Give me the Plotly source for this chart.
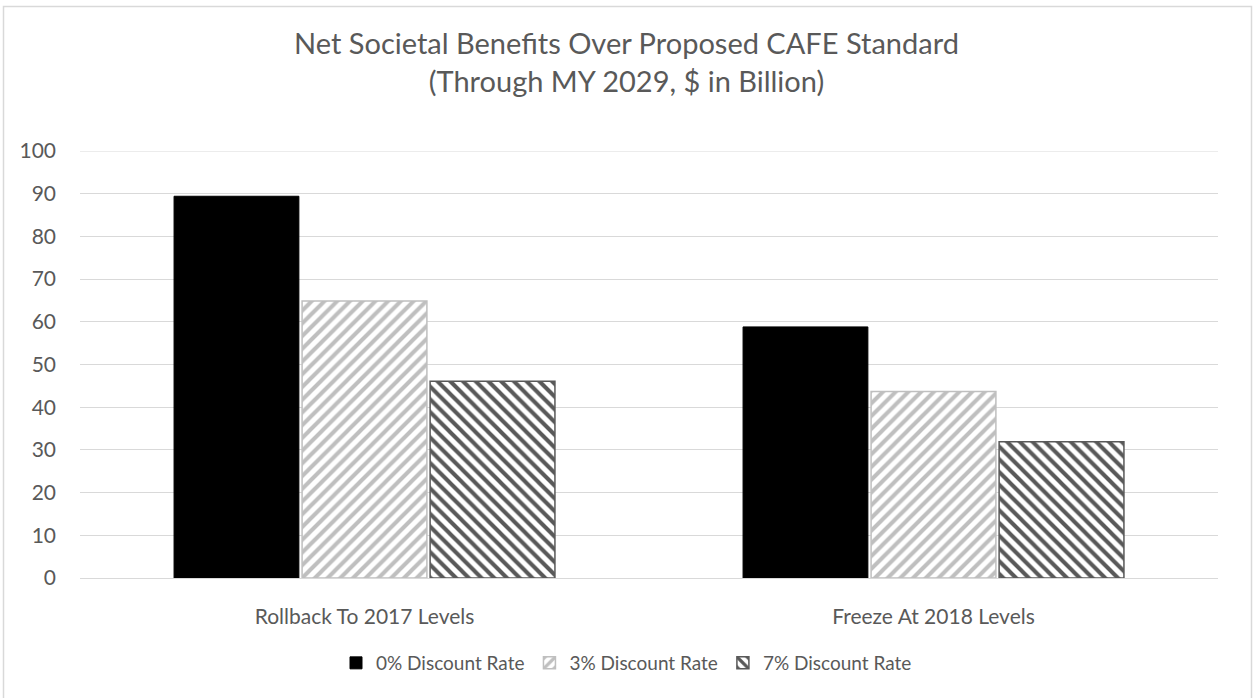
import plotly.graph_objects as go

categories = ["Rollback To 2017 Levels", "Freeze At 2018 Levels"]
series_names = ["0% Discount Rate", "3% Discount Rate", "7% Discount Rate"]
rate_0 = [89.4, 58.8]
rate_3 = [64.9, 43.7]
rate_7 = [46.1, 31.9]
y_ticks = [0, 10, 20, 30, 40, 50, 60, 70, 80, 90, 100]

W, H = 1253, 698
L, R, T, B = 80, 35, 151, 120
pw, ph = W - L - R, H - T - B

FONT = "Lato"
GREY = "#595959"

fig = go.Figure()
fig.add_trace(go.Bar(
    name=series_names[0], x=categories, y=rate_0,
    marker=dict(color="#000000", line=dict(color="#000000", width=1)),
))
fig.add_trace(go.Bar(
    name=series_names[1], x=categories, y=rate_3,
    marker=dict(color="#ffffff", line=dict(color="#bfbfbf", width=1.5),
                pattern=dict(shape="/", fgcolor="#bfbfbf", bgcolor="#ffffff",
                             size=9, solidity=0.45, fillmode="replace")),
))
fig.add_trace(go.Bar(
    name=series_names[2], x=categories, y=rate_7,
    marker=dict(color="#ffffff", line=dict(color=GREY, width=1.5),
                pattern=dict(shape="\\", fgcolor=GREY, bgcolor="#ffffff",
                             size=9, solidity=0.45, fillmode="replace")),
))

def px_x(p):
    return (p - L) / pw

def px_y(p):
    return (H - B - p) / ph

fig.add_shape(type="rect", xref="paper", yref="paper",
              x0=px_x(3.5), x1=px_x(1251.5), y0=px_y(705), y1=px_y(6.5),
              line=dict(color="#d9d9d9", width=1.5), fillcolor="rgba(0,0,0,0)",
              layer="below")
# top gridline at 100 (plotly drops gridlines on the plot edge)
fig.add_shape(type="line", xref="paper", yref="y", x0=0, x1=1, y0=100, y1=100,
              line=dict(color="#d9d9d9", width=1), layer="below")

fig.update_layout(
    width=W, height=H,
    margin=dict(l=L, r=R, t=T, b=B),
    paper_bgcolor="#ffffff", plot_bgcolor="#ffffff",
    barmode="group", bargap=0.325, bargroupgap=0.025,
    font=dict(family=FONT, color=GREY, size=20),
    title=dict(text="Net Societal Benefits Over Proposed CAFE Standard<br>(Through MY 2029, $ in Billion)",
               x=0.5, xref="container", xanchor="center", y=1 - 54 / H, yanchor="middle",
               font=dict(family=FONT, size=29, color=GREY)),
    legend=dict(orientation="h", x=0.5, xanchor="center", y=1 - 663 / H, yanchor="middle",
                xref="container", yref="container",
                font=dict(family=FONT, size=19, color=GREY),
                itemwidth=30, traceorder="normal"),
    showlegend=True,
)
fig.update_yaxes(range=[0, 100], tickvals=y_ticks, showgrid=True, gridcolor="#d9d9d9",
                 gridwidth=1, zeroline=False, showline=False, ticks="",
                 ticklabelstandoff=23, tickfont=dict(family=FONT, size=21, color=GREY))
fig.update_xaxes(showgrid=False, showline=True, linecolor="#d9d9d9", linewidth=1,
                 ticks="", ticklabelstandoff=20,
                 tickfont=dict(family=FONT, size=21, color=GREY))

fig.write_html("out.html", config={"displayModeBar": False},
               post_script="document.body.style.margin='0';document.body.style.overflow='hidden';")
